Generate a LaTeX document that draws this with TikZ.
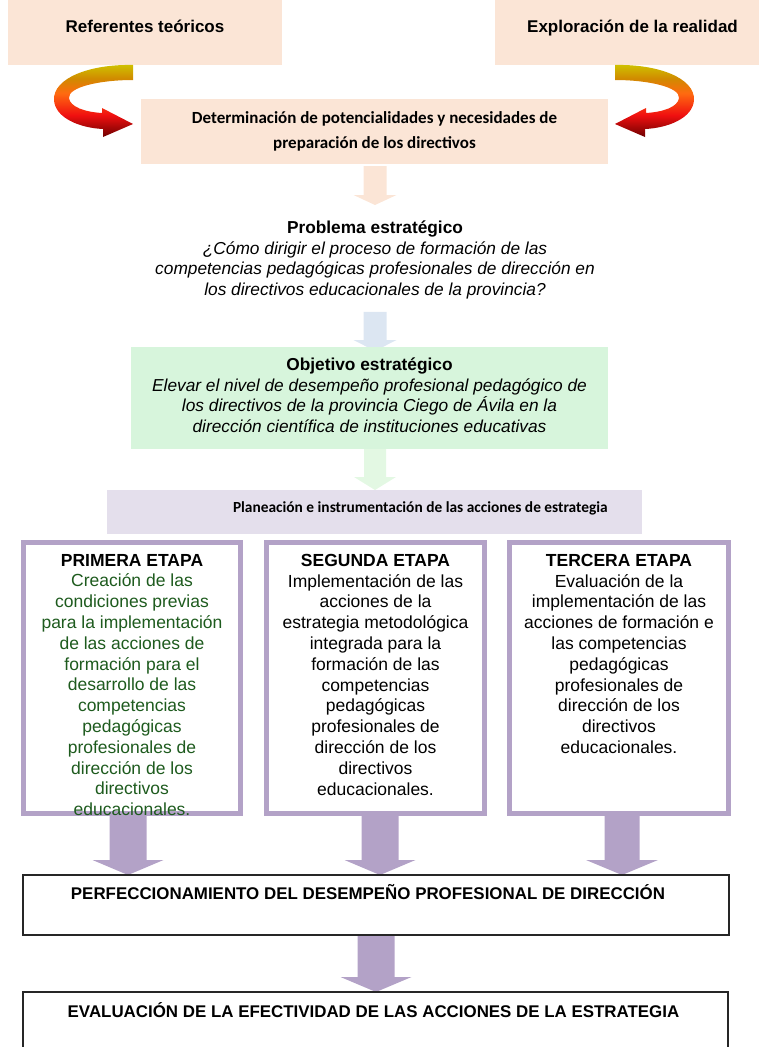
\documentclass[tikz,border=0pt]{standalone}
\usepackage{fontspec}
\setmainfont{Liberation Sans}
\newfontfamily\calibri{Carlito}
\usetikzlibrary{calc,backgrounds}

\definecolor{peach}{HTML}{FBE5D6}
\definecolor{paleblue}{HTML}{DCE6F2}
\definecolor{palegreen}{HTML}{D7F5DC}
\definecolor{mintarrow}{HTML}{E3F8E3}
\definecolor{lilac}{HTML}{E4DFEC}
\definecolor{violet}{HTML}{B3A2C7}
\definecolor{leaf}{HTML}{1E5B1E}
\definecolor{rbyellow}{HTML}{CFC300}
\definecolor{rbbrown}{HTML}{D08A00}
\definecolor{rborange}{HTML}{FF6A10}
\definecolor{rbred}{HTML}{F01010}
\definecolor{rbdark}{HTML}{6E0000}

% warm gradient of the curved ribbon arrows (bottom = 0bp)
\pgfdeclareverticalshading{ribbon}{100bp}{color(0bp)=(rbdark); color(25bp)=(rbdark);
  color(40bp)=(rbred); color(55bp)=(rborange); color(65bp)=(rbbrown);
  color(75bp)=(rbyellow); color(100bp)=(rbyellow)}

% outline of the left curved ribbon arrow (y grows downwards)
\newcommand\ribbonpath{(133,65) .. controls (90,64) and (53,78) .. (54,100)
  .. controls (55,118) and (80,128) .. (103,129) -- (103,137) -- (133,124)
  -- (102,108) -- (102,113) .. controls (85,112) and (70,107) .. (69,98)
  .. controls (68,87) and (100,80) .. (133,80) -- cycle}

% wide downward block arrow: #1 start, #2 end (only its y is used),
% #3 half shaft width, #4 half head width, #5 head length, #6 colour
\newcommand\blockarrow[6]{%
  \fill[#6] let \p1=(#1), \p2=(#2) in
    (\x1-#3,\y1) -- (\x1+#3,\y1) -- (\x1+#3,\y2+#5) -- (\x1+#4,\y2+#5)
    -- (\x1,\y2) -- (\x1-#4,\y2+#5) -- (\x1-#3,\y2+#5) -- cycle;}

\begin{document}
\begin{tikzpicture}[x=1pt, y=-1pt,
  box/.style={inner sep=0pt, outer sep=0pt, anchor=north west},
  stagebox/.style={box, draw=violet, line width=5pt, fill=white},
  plainbox/.style={box, draw=black!85, line width=1.1pt, fill=white},
  txt/.style={inner sep=0pt, outer sep=0pt, align=center},
  headtxt/.style={txt, anchor=base, font=\bfseries\fontsize{17}{20}\selectfont},
  blocktxt/.style={txt, anchor=north, font=\fontsize{17.3}{20.5}\selectfont},
  stagetxt/.style={txt, anchor=north, font=\fontsize{17.5}{20.8}\selectfont},
  captxt/.style={txt, anchor=base, font=\bfseries\fontsize{16.9}{20}\selectfont}]

\path[use as bounding box] (0,0) rectangle (759,1047);

\begin{scope}
\clip (0,0) rectangle (759,1047);

% boxes
\node[box, fill=peach, minimum width=274pt, minimum height=65pt] (ref) at (8,0) {};
\node[box, fill=peach, minimum width=270pt, minimum height=65pt] (expl) at (495,0) {};
\node[box, fill=peach, minimum width=467pt, minimum height=65pt] (det) at (141,99) {};
\node[box, fill=palegreen, minimum width=477pt, minimum height=102pt] (obj) at (131,347) {};
\node[box, fill=lilac, minimum width=535pt, minimum height=44pt] (plan) at (107,490) {};
\node[stagebox, minimum width=217pt, minimum height=271pt] (s1) at (23.5,542.5) {};
\node[stagebox, minimum width=218pt, minimum height=271pt] (s2) at (266.5,542.5) {};
\node[stagebox, minimum width=219pt, minimum height=271pt] (s3) at (509.5,542.5) {};
\node[plainbox, minimum width=706pt, minimum height=60pt] (perf) at (23,875) {};
\node[plainbox, minimum width=705pt, minimum height=80pt] (eval) at (23,992) {};

% curved ribbon arrows
\shade[shading=ribbon] \ribbonpath;
\begin{scope}[xshift=748pt, xscale=-1]
  \shade[shading=ribbon] \ribbonpath;
\end{scope}

% texts
\node[headtxt] (refT) at (145,32) {Referentes teóricos};
\node[headtxt] (explT) at (632.5,32) {Exploración de la realidad};
\node[txt, font=\calibri\bfseries\fontsize{17}{25}\selectfont] (detT) at (det.center)
  {Determinación de potencialidades y necesidades de\\preparación de los directivos};
\node[blocktxt] (probT) at (375,221)
  {\textbf{Problema estratégico}\\
   \textit{¿Cómo dirigir el proceso de formación de las}\\
   \textit{competencias pedagógicas profesionales de dirección en}\\
   \textit{los directivos educacionales de la provincia?}};
\node[blocktxt] (objT) at (369.5,358)
  {\textbf{Objetivo estratégico}\\
   \textit{Elevar el nivel de desempeño profesional pedagógico de}\\
   \textit{los directivos de la provincia Ciego de Ávila en la}\\
   \textit{dirección científica de instituciones educativas}};
\node[txt, anchor=base west, font=\calibri\bfseries\fontsize{15.4}{18}\selectfont] (planT)
  at (233,512) {Planeación e instrumentación de las acciones de estrategia};

\node[stagetxt, text=leaf] (s1T) at ([yshift=-11.5pt]s1.north)
  {\textcolor{black}{\textbf{PRIMERA ETAPA}}\\Creación de las\\condiciones previas\\
   para la implementación\\de las acciones de\\formación para el\\desarrollo de las\\
   competencias\\pedagógicas\\profesionales de\\dirección de los\\directivos\\educacionales.};
\node[stagetxt] (s2T) at ([yshift=-11.5pt]s2.north)
  {\textbf{SEGUNDA ETAPA}\\Implementación de las\\acciones de la\\estrategia metodológica\\
   integrada para la\\formación de las\\competencias\\pedagógicas\\profesionales de\\
   dirección de los\\directivos\\educacionales.};
\node[stagetxt] (s3T) at ([yshift=-11.5pt]s3.north)
  {\textbf{TERCERA ETAPA}\\Evaluación de la\\implementación de las\\acciones de formación e\\
   las competencias\\pedagógicas\\profesionales de\\dirección de los\\directivos\\
   educacionales.};

\node[captxt] (perfT) at (368,899) {PERFECCIONAMIENTO DEL DESEMPEÑO PROFESIONAL DE DIRECCIÓN};
\node[captxt] (evalT) at (373.5,1017) {EVALUACIÓN DE LA EFECTIVIDAD DE LAS ACCIONES DE LA ESTRATEGIA};
\end{scope}

% block arrows between the stages of the chart
\begin{pgfonlayer}{background}
  \blockarrow{$(det.south)+(0.5,2)$}{$(probT.north)+(0,-16)$}{11.5pt}{21.5pt}{10pt}{peach}
  \blockarrow{$(probT.south)+(0,13)$}{$(det.south |- obj.north)+(0,4)$}{11.5pt}{21.5pt}{11pt}{paleblue}
  \blockarrow{$(det.south |- obj.south)+(0.5,0)$}{det.south |- plan.north}{11pt}{21pt}{13pt}{mintarrow}
  \blockarrow{$(s1.south)+(-4,0)$}{perf.north}{18.5pt}{35.5pt}{15pt}{violet}
  \blockarrow{$(s2.south)+(4.5,0)$}{perf.north}{18.5pt}{35.5pt}{15pt}{violet}
  \blockarrow{$(s3.south)+(3,0)$}{perf.north}{17.5pt}{36pt}{15pt}{violet}
  \blockarrow{perf.south}{eval.north}{18.5pt}{35.5pt}{15pt}{violet}
\end{pgfonlayer}
\end{tikzpicture}
\end{document}
